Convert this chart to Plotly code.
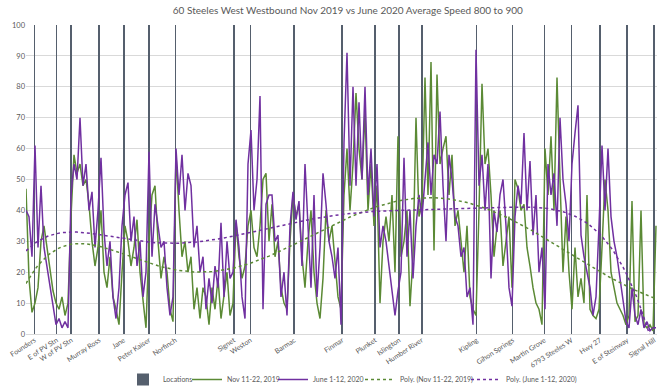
import numpy as np
import plotly.graph_objects as go

title_text = "60 Steeles West Westbound Nov 2019 vs June 2020 Average Speed 800 to 900"

location_names = ["Founders", "E of PV Stn", "W of PV Stn", "Murray Ross", "Jane",
                  "Peter Kaiser", "Norfinch", "Signet", "Weston", "Barmac", "Finmar",
                  "Plunket", "Islington", "Humber River", "Kipling", "Gihon Springs",
                  "Martin Grove", "6793 Steeles W", "Hwy 27", "E of Steinway", "Signal Hill"]
location_index = [2.8, 10.2, 15.1, 24.4, 32.6, 41.0, 49.8, 69.3, 74.8, 89.4, 105.4,
                  116.4, 124.4, 131.9, 150.2, 162.2, 172.8, 181.8, 191.3, 200.4, 209.4]
location_value = [100] * len(location_names)

nov_2019 = [
    47, 18, 7, 10, 15, 30, 35, 28, 22, 14,
    10, 8, 12, 6, 10, 38, 58, 52, 55, 48,
    50, 42, 30, 22, 28, 40, 20, 15, 25, 12,
    8, 3, 20, 35, 30, 22, 28, 37, 20, 10,
    2, 30, 45, 48, 30, 18, 25, 20, 8, 4,
    58, 40, 25, 30, 20, 25, 8, 15, 5, 15,
    12, 3, 15, 8, 18, 5, 12, 20, 6, 10,
    36, 25, 18, 22, 35, 40, 28, 25, 35, 50,
    52, 30, 42, 25, 30, 15, 10, 8, 30, 45,
    38, 42, 25, 15, 30, 40, 20, 10, 5, 18,
    40, 30, 35, 22, 12, 8, 45, 60, 40, 55,
    78, 60, 50, 72, 40, 55, 35, 48, 10, 30,
    38, 30, 45, 20, 64, 25, 30, 40, 9, 25,
    70, 38, 42, 83, 45, 88, 27, 84, 55, 60,
    64, 45, 58, 35, 40, 30, 20, 35, 12, 8,
    6, 40, 81, 55, 60, 45, 25, 35, 40, 22,
    30, 38, 15, 50, 47, 40, 42, 28, 22, 15,
    10, 8, 3, 60, 45, 64, 40, 83, 50, 20,
    38, 20, 8, 28, 12, 18, 10, 45, 8, 6,
    5, 8, 28, 50, 40, 20, 15, 10, 8, 6,
    3, 6, 43, 4, 6, 40, 3, 2, 3, 1, 35,
]

june_2020 = [
    40, 38, 25, 61, 28, 48, 28, 22, 15, 10,
    3, 5, 2, 4, 2, 45, 55, 50, 70, 48,
    55, 40, 46, 28, 40, 57, 33, 22, 30, 12,
    5, 15, 35, 45, 49, 30, 38, 22, 30, 12,
    20, 59, 25, 42, 35, 28, 30, 15, 6, 12,
    60, 45, 58, 40, 52, 48, 28, 35, 20, 25,
    8, 18, 10, 22, 15, 36, 12, 30, 18, 20,
    37, 28, 12, 5, 55, 66, 40, 50, 77, 8,
    42, 45, 45, 30, 32, 12, 20, 6, 35, 46,
    37, 43, 22, 55, 35, 15, 45, 12, 28, 52,
    42, 30, 25, 18, 28, 3, 62, 91, 48, 80,
    48, 75, 50, 80, 45, 60, 38, 55, 28, 35,
    30, 22, 12, 6, 14, 20, 57, 25, 40, 18,
    35, 45, 38, 50, 62, 45, 58, 55, 72, 48,
    30, 58, 50, 38, 35, 25, 28, 12, 15, 3,
    92, 48, 58, 40, 55, 18, 40, 33, 45, 50,
    35, 15, 9, 38, 48, 42, 65, 40, 56, 32,
    45, 20, 28, 8, 55, 45, 52, 35, 70, 50,
    42, 30, 55, 65, 74, 32, 25, 20, 15, 6,
    12, 35, 61, 40, 60, 38, 30, 25, 18, 12,
    4, 2, 15, 6, 3, 8, 2, 4, 1, 2, 2,
]

x = np.arange(len(nov_2019))


def poly_trend(values, order=6):
    p = np.polynomial.Polynomial.fit(x, values, order)
    return p(x)


GREEN = "#5b8a35"
PURPLE = "#7030a0"
TXT = "#595959"
FONT = "Lato"

fig = go.Figure()
fig.add_trace(go.Bar(x=location_index, y=location_value, width=0.25, name="Locations",
                     legend="legend",
                     marker=dict(color="#555f6d", line=dict(width=0))))
fig.add_trace(go.Scatter(x=x, y=nov_2019, mode="lines", name="Nov 11-22, 2019",
                         legend="legend2", line=dict(color=GREEN, width=1.5)))
fig.add_trace(go.Scatter(x=x, y=june_2020, mode="lines", name="June 1-12, 2020",
                         legend="legend3", line=dict(color=PURPLE, width=1.5)))
fig.add_trace(go.Scatter(x=x, y=poly_trend(nov_2019), mode="lines",
                         name="Poly. (Nov 11-22, 2019)", legend="legend4",
                         line=dict(color=GREEN, width=1.5, dash="dot")))
fig.add_trace(go.Scatter(x=x, y=poly_trend(june_2020), mode="lines",
                         name="Poly. (June 1-12, 2020)", legend="legend5",
                         line=dict(color=PURPLE, width=1.5, dash="dot")))


def legend_at(px_left):
    return dict(orientation="h", xref="container", x=px_left / 660, xanchor="left",
                yref="container", y=10.5 / 390, yanchor="middle", itemwidth=30,
                font=dict(family=FONT, size=7, color=TXT), bgcolor="rgba(0,0,0,0)")


fig.update_layout(
    width=660, height=390,
    margin=dict(l=26, r=3, t=25, b=56, autoexpand=False),
    paper_bgcolor="white", plot_bgcolor="white",
    font=dict(family=FONT, color=TXT, size=8),
    title=dict(text=title_text, x=0.527, xanchor="center", y=1.0, yanchor="top",
               pad=dict(t=7),
               font=dict(family=FONT, size=10, color=TXT)),
    showlegend=True,
    legend=legend_at(123),
    legend2=legend_at(187),
    legend3=legend_at(273),
    legend4=legend_at(360),
    legend5=legend_at(466),
    bargap=0,
)
fig.update_xaxes(range=[0, 631 / 3], tickmode="array", tickvals=location_index,
                 ticktext=location_names, tickangle=-33,
                 automargin=False, showgrid=False, zeroline=False,
                 showline=False, ticks="", tickfont=dict(size=7, color=TXT))
fig.update_yaxes(range=[0, 100], dtick=10, showgrid=True, gridcolor="#d9d9d9",
                 automargin=False,
                 gridwidth=1, zeroline=True, zerolinecolor="#d9d9d9", zerolinewidth=1,
                 showline=False, ticks="", tickfont=dict(size=7.5, color=TXT))

fig.write_html("out.html",
               config={"displayModeBar": False},
               post_script="document.body.style.margin='0px';"
                           "document.body.style.padding='0px';")
